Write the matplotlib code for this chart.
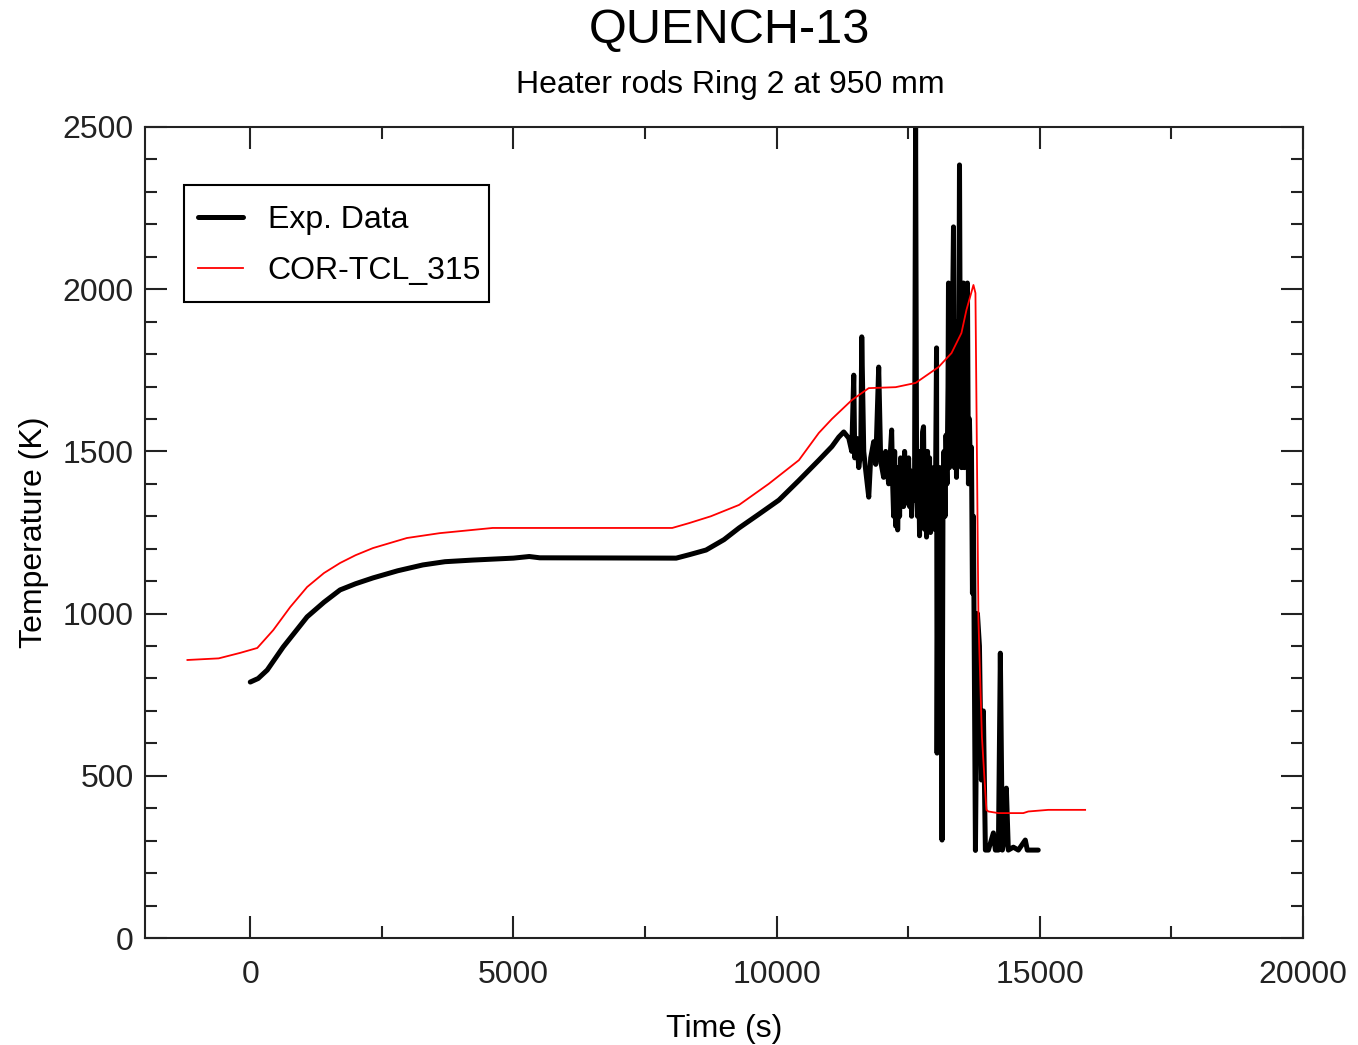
import matplotlib
matplotlib.use("Agg")
import matplotlib.pyplot as plt
from matplotlib.ticker import MultipleLocator
from matplotlib.patches import Rectangle

plt.rcParams['font.family'] = ['Liberation Sans', 'DejaVu Sans']

title = "QUENCH-13"
subtitle = "Heater rods Ring 2 at 950 mm"
xlabel = "Time (s)"
ylabel = "Temperature (K)"
exp_label = "Exp. Data"
sim_label = "COR-TCL_315"

exp_t = [0, 150, 322, 625, 1080, 1400, 1706, 2000, 2331, 2800, 3278, 3700, 4226, 5000, 5300, 5500, 8092,
         8350, 8660, 9000, 9286, 9650, 10044, 10420, 10802, 11050, 11180, 11275, 11370, 11427, 11465,
         11484, 11522, 11560, 11598, 11617, 11655, 11693, 11750, 11787, 11844, 11882, 11939, 11977,
         12033, 12071, 12128,
         12185, 12204, 12223, 12242, 12261, 12280, 12299, 12318, 12336, 12355, 12374, 12393, 12412,
         12431, 12450, 12469, 12488, 12507, 12526, 12545, 12564, 12583, 12602, 12621, 12640, 12659,
         12678, 12697, 12715, 12734, 12753, 12772, 12791, 12810, 12829, 12848, 12867, 12886, 12905,
         12924, 12943, 12962, 12981, 13000, 13019, 13038, 13048, 13067, 13086, 13104, 13123, 13142,
         13161, 13180, 13199, 13218, 13237, 13256, 13265, 13284, 13303, 13322, 13341, 13360, 13379,
         13398, 13417, 13436, 13455, 13474, 13493, 13511, 13530, 13549, 13568, 13587, 13606, 13625,
         13644, 13663, 13682, 13701, 13720, 13739, 13777,
         13815, 13853, 13890, 13928, 13966, 14023, 14118, 14156, 14213, 14250, 14288, 14326, 14364,
         14402, 14497, 14592, 14724, 14762, 14970]
exp_T = [789, 800, 826, 897, 990, 1035, 1073, 1092, 1110, 1132, 1150, 1160, 1165, 1171, 1176, 1172, 1171,
         1182, 1196, 1228, 1264, 1305, 1350, 1410, 1473, 1515, 1544, 1560, 1541, 1500, 1735,
         1480, 1540, 1450, 1500, 1853, 1500, 1440, 1359, 1480, 1530, 1460, 1760, 1470,
         1420, 1500, 1400,
         1566, 1400, 1300, 1500, 1270, 1450, 1258, 1400, 1300, 1480, 1350, 1460, 1330,
         1500, 1380, 1470, 1340, 1480, 1330, 1440, 1300, 1420, 1350, 1440, 2520, 1420,
         1300, 1500, 1240, 1480, 1300, 1560, 1576, 1260, 1450, 1236, 1500, 1280, 1480,
         1250, 1420, 1300, 1450, 1260, 1400, 1819, 570, 1400, 1300, 1450, 1320, 302,
         1380, 1500, 1300, 1550, 1400, 1700, 2019, 1450, 1800, 1500, 1900, 2192, 1450,
         1700, 1420, 1900, 1500, 2383, 1600, 1450, 1800, 2019, 1450, 1700, 1480, 2019,
         1400, 1600, 1420, 1513, 1063, 1300, 270,
         1000, 900, 487, 700, 271, 271, 324, 271, 271, 878, 271, 300, 462,
         271, 280, 271, 302, 271, 271]

sim_t = [-1194, -600, -190, 133, 436, 758, 1080, 1400, 1706, 2000, 2331, 2975, 3600, 4605, 8016, 8338,
         8750, 9286, 9850, 10423, 10802, 11050, 11427, 11749, 12261, 12640, 13076, 13322, 13511,
         13606, 13739, 13777, 13834, 13900, 13985, 14023, 14213, 14686, 14781, 15160, 15861]
sim_T = [857, 862, 879, 894, 949, 1020, 1082, 1125, 1156, 1180, 1202, 1233, 1248, 1264, 1264, 1279,
         1300, 1335, 1400, 1473, 1557, 1600, 1658, 1695, 1698, 1711, 1760, 1803, 1865,
         1936, 2013, 1988, 980, 620, 395, 390, 385, 385, 390, 395, 395]

fig = plt.figure(figsize=(13.58, 10.45), dpi=100)
ax = fig.add_axes([145/1358, 1-938/1045, (1303-145)/1358, (938-127)/1045])

ax.plot(exp_t, exp_T, color='black', lw=3.6, label=exp_label,
        solid_joinstyle='round', solid_capstyle='round')
ax.plot(sim_t, sim_T, color='#ff0000', lw=1.3, label=sim_label)

ax.set_xlim(-2000, 20000)
ax.set_ylim(0, 2500)
ax.xaxis.set_major_locator(MultipleLocator(5000))
ax.xaxis.set_minor_locator(MultipleLocator(2500))
ax.yaxis.set_major_locator(MultipleLocator(500))
ax.yaxis.set_minor_locator(MultipleLocator(100))
ax.tick_params(which='both', direction='in', top=True, right=True, width=1.5, colors='#222222')
ax.tick_params(which='major', length=16)
ax.tick_params(which='minor', length=8.5)
ax.tick_params(axis='x', which='major', pad=16, labelsize=23)
ax.tick_params(axis='y', which='major', pad=8, labelsize=23)
for s in ax.spines.values():
    s.set_linewidth(1.5)
    s.set_color('#222222')

ax.set_xlabel(xlabel, fontsize=23, labelpad=17)
ax.set_ylabel(ylabel, fontsize=23, labelpad=10)

fig.text(0.5375, 1-30/1045, title, ha='center', va='center', fontsize=35)
fig.text(0.5375, 1-85/1045, subtitle, ha='center', va='center', fontsize=23)

# legend frame drawn as a box, legend entries placed inside
ax.add_patch(Rectangle(((184-145)/1158, (938-302)/811), 305/1158, 117/811,
                       transform=ax.transAxes, facecolor='white', edgecolor='black',
                       lw=1.5, zorder=4))
leg = ax.legend(loc='upper left', bbox_to_anchor=((198-145)/1158, (938-205)/811),
                borderaxespad=0, borderpad=0, frameon=False,
                fontsize=23, handlelength=1.4, handletextpad=0.78,
                labelspacing=0.66)
leg.set_zorder(5)

fig.savefig('out.png', dpi=100)
